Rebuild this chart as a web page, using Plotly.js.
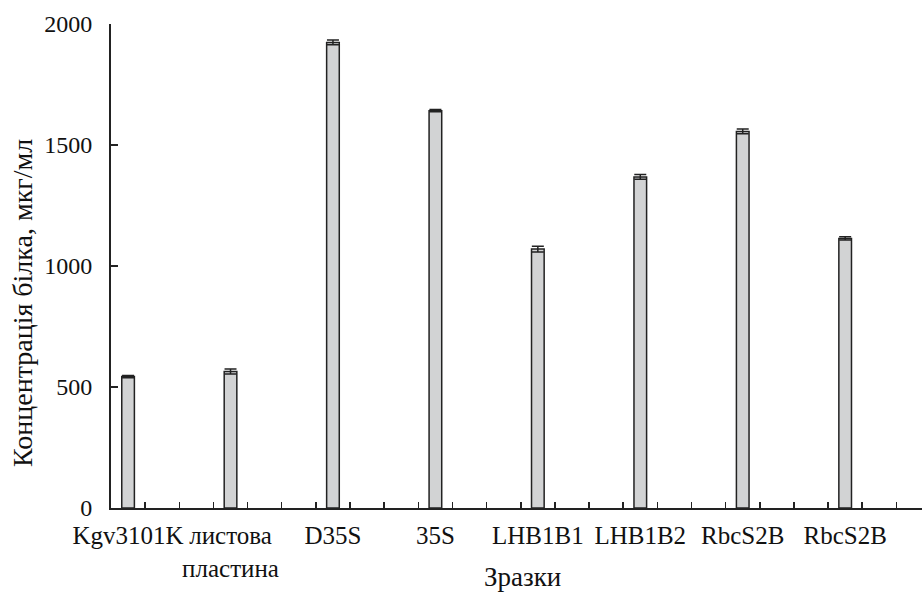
<!DOCTYPE html>
<html>
<head>
<meta charset="utf-8">
<script src="https://cdn.plot.ly/plotly-3.0.1.min.js"></script>
<style>html,body{margin:0;padding:0;background:#fff;}#chart{width:922px;height:592px;}</style>
</head>
<body>
<div id="chart"></div>
<script>
const categories = ["Kgv3101K", "листова<br>пластина", "D35S", "35S", "LHB1B1", "LHB1B2", "RbcS2B", "RbcS2B"];
const values = [543, 564, 1924, 1642, 1070, 1368, 1556, 1114];
const errors = [5, 10, 10, 5, 12, 10, 10, 7];
const yTicks = [0, 500, 1000, 1500, 2000];
const xTitle = "Зразки";
const yTitle = "Концентрація білка, мкг/мл";
const slotsPerSample = 3;

const xPos = categories.map((c, i) => i * slotsPerSample);
const boundaries = [];
for (let k = 0; k < 24; k++) boundaries.push(k + 0.5);

const serif = "'Liberation Serif', 'Times New Roman', serif";

const trace = {
  type: "bar",
  x: xPos,
  y: values,
  width: 0.37,
  marker: {color: "#d2d3d4", line: {color: "#222", width: 1.5}},
  error_y: {type: "data", array: errors, visible: true, color: "#222", thickness: 1.5, width: 6},
  hoverinfo: "y",
  showlegend: false
};

const layout = {
  width: 922,
  height: 592,
  margin: {l: 111, r: 0, t: 24, b: 84},
  paper_bgcolor: "#fff",
  plot_bgcolor: "#fff",
  font: {family: serif, color: "#111", size: 24},
  bargap: 0,
  xaxis: {
    range: [-0.5, 23.25],
    tickmode: "array",
    tickvals: xPos,
    ticktext: categories,
    tickangle: 0,
    ticks: "",
    ticklabelstandoff: 4,
    tickfont: {family: serif, size: 25, color: "#111"},
    minor: {
      tickmode: "array",
      tickvals: boundaries,
      ticks: "inside",
      ticklen: 6,
      tickwidth: 1.5,
      tickcolor: "#222",
      showgrid: false
    },
    showline: true,
    linecolor: "#222",
    linewidth: 2,
    showgrid: false,
    zeroline: false
  },
  yaxis: {
    range: [0, 2000],
    tickmode: "array",
    tickvals: yTicks,
    ticks: "inside",
    ticklen: 7,
    tickwidth: 1.5,
    tickcolor: "#222",
    ticklabelstandoff: 12,
    tickfont: {family: serif, size: 24, color: "#111"},
    showline: true,
    linecolor: "#222",
    linewidth: 2,
    showgrid: false,
    zeroline: false
  },
  annotations: [
    {
      text: xTitle, xref: "paper", yref: "paper",
      x: (522 - 111) / 811, y: -(560 - 508) / 484,
      xanchor: "center", yanchor: "top", showarrow: false,
      font: {family: serif, size: 27, color: "#111"}
    },
    {
      text: yTitle, xref: "paper", yref: "paper",
      x: (22 - 111) / 811, y: (508 - 303) / 484,
      xanchor: "center", yanchor: "middle", textangle: -90, showarrow: false,
      font: {family: serif, size: 28, color: "#111"}
    }
  ]
};

Plotly.newPlot("chart", [trace], layout, {staticPlot: true, displayModeBar: false});
</script>
</body>
</html>
